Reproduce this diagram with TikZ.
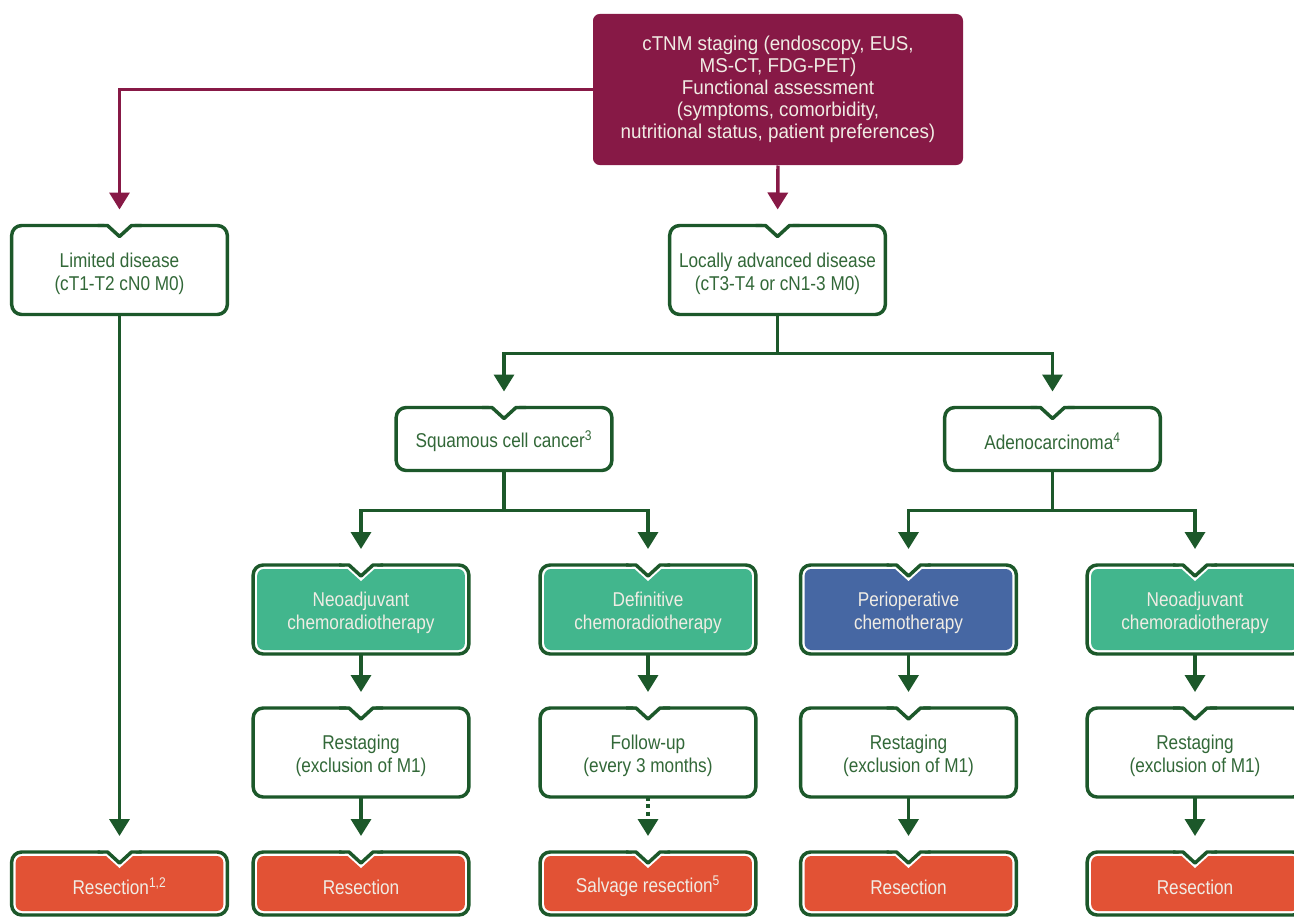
\documentclass[tikz,border=0pt]{standalone}
\usepackage{fontspec}
\setmainfont{Liberation Sans}[FakeStretch=0.86]
\newfontfamily\widefont{Liberation Sans}[FakeStretch=0.94]
\usetikzlibrary{arrows.meta,calc,backgrounds}

\definecolor{boxmaroon}{RGB}{135,25,70}
\definecolor{linegreen}{RGB}{28,88,42}
\definecolor{textgreen}{RGB}{50,104,56}
\definecolor{fillteal}{RGB}{66,182,141}
\definecolor{fillblue}{RGB}{70,103,163}
\definecolor{fillred}{RGB}{226,82,53}
\definecolor{textcream}{RGB}{240,236,228}

% pushes the text a little down, below the notch
\newcommand{\tstrut}{\rule{0pt}{16pt}}

\tikzset{every picture/.style={line width=0.75pt}}
\tikzset{
  stagebox/.style={align=center, inner sep=0pt, minimum width=161pt, minimum height=66pt,
    text=textgreen, font=\fontsize{15}{17.25}\selectfont},
  lowbox/.style={stagebox, minimum height=46.5pt},
  treatbox/.style={stagebox, text=textcream},
  boxline/.style={draw=linegreen, line width=2.6pt, line join=round},
  garr/.style={draw=linegreen, line width=2.6pt, -{Triangle[length=12.75pt,width=15pt]}, shorten >=12pt},
  marr/.style={garr, draw=boxmaroon},
}

% white box with notch
\newcommand{\plainbox}[1]{%
  \draw[boxline, fill=white, rounded corners=7.5pt] (#1.north west) rectangle (#1.south east);
  \fill[white] ($(#1.north)+(-16,-3)$) -- ($(#1.north)+(16,-3)$) -- ($(#1.north)+(0,14)$) -- cycle;
  \draw[boxline] ($(#1.north)+(-22,0)$) -- ($(#1.north)+(-12,0)$) -- ($(#1.north)+(0,11)$) -- ($(#1.north)+(12,0)$) -- ($(#1.north)+(22,0)$);
}
% coloured box with notch
\newcommand{\fillbox}[2]{%
  \draw[boxline, fill=white, rounded corners=7.5pt] (#1.north west) rectangle (#1.south east);
  \fill[#2, rounded corners=5pt] ($(#1.north west)+(4,4)$) rectangle ($(#1.south east)+(-4,-4)$);
  \fill[white] ($(#1.north)+(-21,-3)$) -- ($(#1.north)+(21,-3)$) -- ($(#1.north)+(0,16)$) -- cycle;
  \draw[boxline] ($(#1.north)+(-22,0)$) -- ($(#1.north)+(-12,0)$) -- ($(#1.north)+(0,11)$) -- ($(#1.north)+(12,0)$) -- ($(#1.north)+(22,0)$);
}

\begin{document}
\begin{tikzpicture}[x=0.75pt,y=0.75pt,yscale=-1,xscale=1]
\path[use as bounding box] (0,0) rectangle (1294,917);

%Shape: Rectangle [staging]
\node[fill=boxmaroon, rounded corners=5pt, inner sep=0pt, minimum width=277.5pt, minimum height=113.25pt,
  align=center, text=textcream, font=\widefont\fontsize{15}{16.5}\selectfont] (stage) at (778,89.5)
  {cTNM staging (endoscopy, EUS,\\MS-CT, FDG-PET)\\Functional assessment\\(symptoms, comorbidity,\\nutritional status, patient preferences)};

% Text Node
\node[stagebox] (limited) at (119.5,270) {\tstrut Limited disease\\(cT1-T2 cN0 M0)};
% Text Node
\node[stagebox] (locadv) at (777.5,270) {\tstrut Locally advanced disease\\(cT3-T4 or cN1-3 M0)};
% Text Node
\node[stagebox, minimum height=46.5pt] (squam) at (504,439) {\tstrut Squamous cell cancer\textsuperscript{3}};
% Text Node
\node[stagebox, minimum height=46.5pt] (adeno) at (1052.5,439) {\tstrut Adenocarcinoma\textsuperscript{4}};

% Text Node
\node[treatbox] (neosq) at (361,609.5) {\tstrut Neoadjuvant\\chemoradiotherapy};
% Text Node
\node[treatbox] (defsq) at (648,609.5) {\tstrut Definitive\\chemoradiotherapy};
% Text Node
\node[treatbox] (periad) at (908.5,609.5) {\tstrut Perioperative\\chemotherapy};
% Text Node
\node[treatbox] (neoad) at (1195,609.5) {\tstrut Neoadjuvant\\chemoradiotherapy};

% Text Node
\node[stagebox] (restsq) at (361,752.5) {\tstrut Restaging\\(exclusion of M1)};
% Text Node
\node[stagebox] (follow) at (648,752.5) {\tstrut Follow-up\\(every 3 months)};
% Text Node
\node[stagebox] (restpe) at (908.5,752.5) {\tstrut Restaging\\(exclusion of M1)};
% Text Node
\node[stagebox] (restad) at (1195,752.5) {\tstrut Restaging\\(exclusion of M1)};

% Text Node
\node[lowbox, text=textcream] (reslim) at (119.5,883.5) {\tstrut Resection\textsuperscript{1,2}};
% Text Node
\node[lowbox, text=textcream] (ressq) at (361,883.5) {\tstrut Resection};
% Text Node
\node[lowbox, text=textcream] (salv) at (648,883.5) {\tstrut Salvage resection\textsuperscript{5}};
% Text Node
\node[lowbox, text=textcream] (respe) at (908.5,883.5) {\tstrut Resection};
% Text Node
\node[lowbox, text=textcream] (resad) at (1195,883.5) {\tstrut Resection};

%Shapes behind the text
\begin{pgfonlayer}{background}
\plainbox{limited}
\plainbox{locadv}
\plainbox{squam}
\plainbox{adeno}
\fillbox{neosq}{fillteal}
\fillbox{defsq}{fillteal}
\fillbox{periad}{fillblue}
\fillbox{neoad}{fillteal}
\plainbox{restsq}
\plainbox{follow}
\plainbox{restpe}
\plainbox{restad}
\fillbox{reslim}{fillred}
\fillbox{ressq}{fillred}
\fillbox{salv}{fillred}
\fillbox{respe}{fillred}
\fillbox{resad}{fillred}
\end{pgfonlayer}

%Straight Lines
\draw[marr] (stage.west) -| (limited.north);
\draw[marr] (stage.south) -- (locadv.north);
%Straight Lines
\draw[garr] (locadv.south) -- ++(0,39) -| (squam.north);
\draw[garr] (locadv.south) -- ++(0,39) -| (adeno.north);
%Straight Lines
\draw[garr] (squam.south) -- ++(0,40) -| (neosq.north);
\draw[garr] (squam.south) -- ++(0,40) -| (defsq.north);
\draw[garr] (adeno.south) -- ++(0,40) -| (periad.north);
\draw[garr] (adeno.south) -- ++(0,40) -| (neoad.north);
%Straight Lines
\draw[garr] (neosq.south) -- (restsq.north);
\draw[garr] (defsq.south) -- (follow.north);
\draw[garr] (periad.south) -- (restpe.north);
\draw[garr] (neoad.south) -- (restad.north);
%Straight Lines
\draw[garr] (limited.south) -- (reslim.north);
\draw[garr] (restsq.south) -- (ressq.north);
\draw[garr, dash pattern=on 3pt off 2.5pt] (follow.south) -- (salv.north);
\draw[garr] (restpe.south) -- (respe.north);
\draw[garr] (restad.south) -- (resad.north);

\end{tikzpicture}
\end{document}
